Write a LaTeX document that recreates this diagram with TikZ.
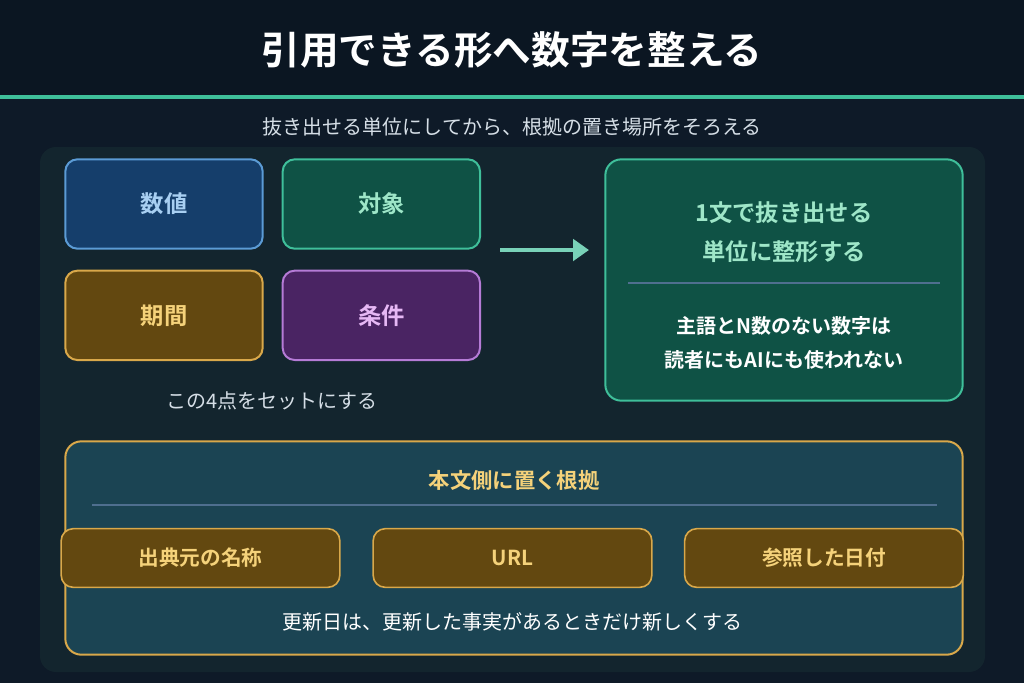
\documentclass[tikz,border=0pt]{standalone}
\usepackage{fontspec}
\setmainfont{Noto Sans CJK JP}
\newfontfamily\jpbold{Noto Sans CJK JP Bold}
\usetikzlibrary{positioning,arrows.meta}
\definecolor{bgdark}{HTML}{0B1622}
\definecolor{bgmain}{HTML}{0E1A28}
\definecolor{panel}{HTML}{13252E}
\definecolor{mint}{HTML}{3FBF9A}
\definecolor{mintlight}{HTML}{9EE6C8}
\definecolor{bluefill}{HTML}{153E6B}
\definecolor{blueline}{HTML}{5B9BD5}
\definecolor{bluetext}{HTML}{A8CFF2}
\definecolor{greenfill}{HTML}{0F5245}
\definecolor{orangefill}{HTML}{634810}
\definecolor{orangeline}{HTML}{D9A84A}
\definecolor{orangetext}{HTML}{F5D27A}
\definecolor{purplefill}{HTML}{4A2463}
\definecolor{purpleline}{HTML}{B57BD6}
\definecolor{purpletext}{HTML}{E6B8F5}
\definecolor{tealfill}{HTML}{1B4453}
\definecolor{rulegray}{HTML}{4F6F8F}
\definecolor{subgray}{HTML}{D5DEE6}
\tikzset{
  card/.style={draw, line width=1.5pt, rounded corners=9pt, minimum width=148pt, minimum height=67pt, font=\jpbold\fontsize{17.5}{20}\selectfont},
  chip/.style={draw=orangeline, fill=orangefill, line width=1.2pt, rounded corners=9pt, minimum width=209pt, minimum height=44pt, text=orangetext, font=\jpbold\fontsize{15.5}{18}\selectfont},
}
\begin{document}
\begin{tikzpicture}[x=0.75pt,y=-0.75pt]
  \useasboundingbox (0,0) rectangle (1024,683);
  \fill[bgmain] (0,0) rectangle (1024,683);
  \fill[bgdark] (0,0) rectangle (1024,96);
  \fill[mint] (0,95) rectangle (1024,99);
  \node[text=white, font=\jpbold\fontsize{29}{32}\selectfont](title) at (512,50){引用できる形へ数字を整える};
  \node[text=subgray, font=\fontsize{15}{17}\selectfont](subtitle) at (512,127){抜き出せる単位にしてから、根拠の置き場所をそろえる};
  \fill[panel, rounded corners=12pt] (40,147) rectangle (985,672);

  % four elements
  \node[card, draw=blueline, fill=bluefill, text=bluetext](value) at (164,204){数値};
  \node[card, draw=mint, fill=greenfill, text=mintlight, right=13.5pt of value](target){対象};
  \node[card, draw=orangeline, fill=orangefill, text=orangetext, below=15pt of value](period){期間};
  \node[card, draw=purpleline, fill=purplefill, text=purpletext, below=15pt of target](cond){条件};
  \node[text=subgray, font=\fontsize{15}{17}\selectfont](setnote) at (272,401){この4点をセットにする};

  % result
  \node[draw=mint, fill=greenfill, line width=1.5pt, rounded corners=12pt, minimum width=268pt, minimum height=181pt](result) at (784,280){};
  \node[text=mintlight, font=\jpbold\fontsize{17.5}{29.5}\selectfont, align=center](resulthead) at (784,232){1文で抜き出せる\\単位に整形する};
  \draw[rulegray, line width=0.8pt] (628,283) -- (940,283);
  \node[text=white, font=\jpbold\fontsize{15}{25.5}\selectfont, align=center](resultbody) at (784,343){主語とN数のない数字は\\読者にもAIにも使われない};
  \coordinate (arrowstart) at (500,250);
  \coordinate (arrowend) at (589,250);
  \draw[mint!70!white, line width=3pt, -{Triangle[length=12pt,width=16pt]}] (arrowstart) -- (arrowend);

  % evidence
  \node[draw=orangeline, fill=tealfill, line width=1.5pt, rounded corners=12pt, minimum width=673pt, minimum height=160pt](evidence) at (514,548){};
  \node[text=orangetext, font=\jpbold\fontsize{16}{18}\selectfont](evhead) at (514,480){本文側に置く根拠};
  \draw[rulegray, line width=0.8pt] (92,505) -- (937,505);
  \node[chip](source) at (200.5,558){出典元の名称};
  \node[chip](url) at (512.5,558){URL};
  \node[chip](date) at (824,558){参照した日付};
  \node[text=white, font=\fontsize{15}{17}\selectfont](evnote) at (512,622){更新日は、更新した事実があるときだけ新しくする};
\end{tikzpicture}
\end{document}
